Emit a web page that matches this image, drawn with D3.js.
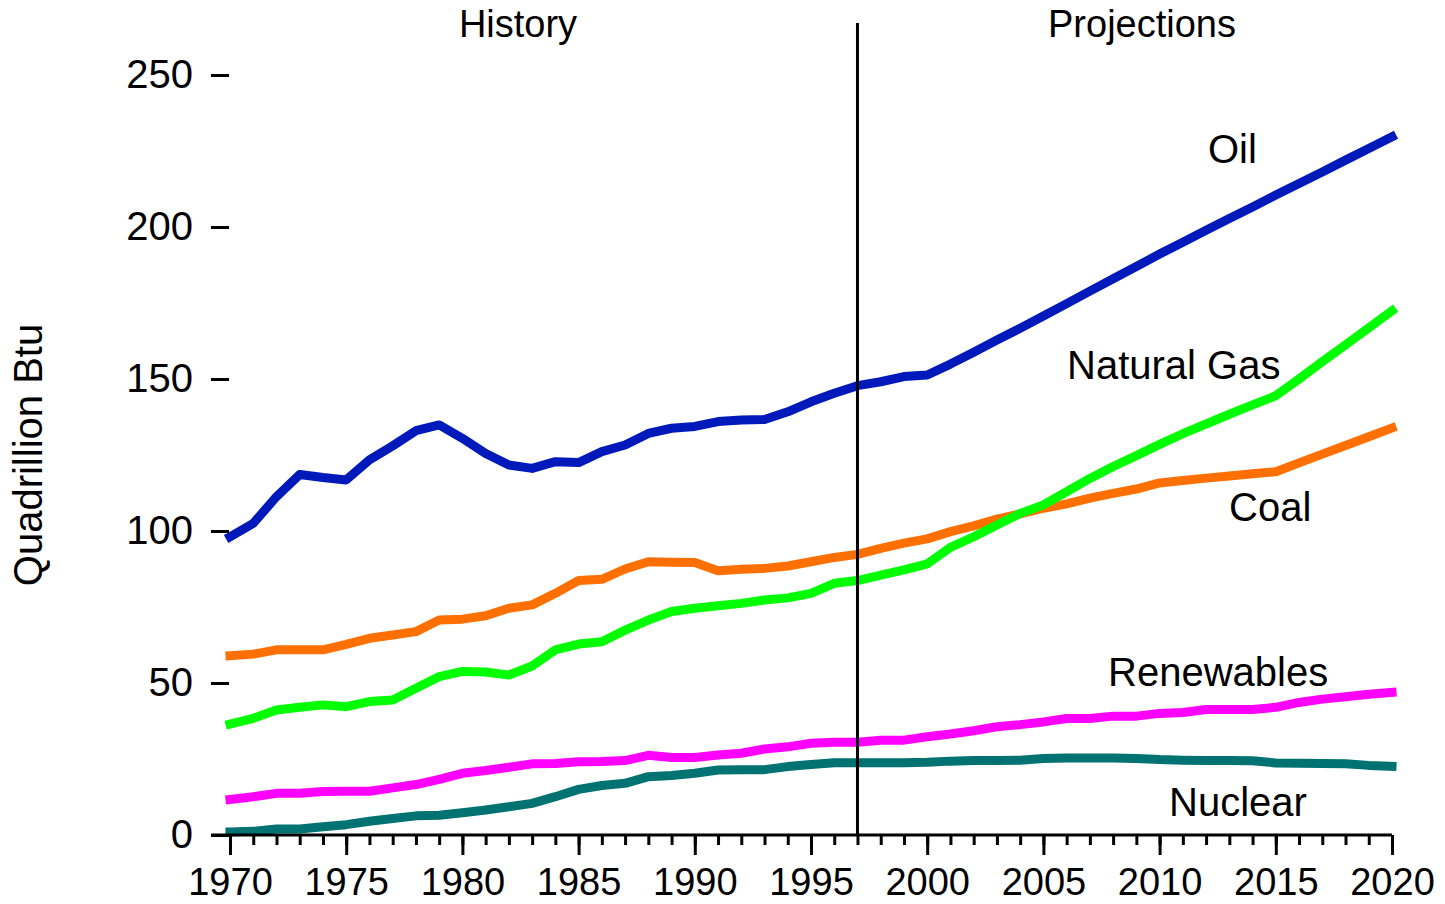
<!DOCTYPE html>
<html>
<head>
<meta charset="utf-8">
<script src="https://cdn.jsdelivr.net/npm/d3@7"></script>
<style>
  html, body { margin: 0; padding: 0; background: #fff; }
  svg { display: block; }
  text { font-family: "Liberation Sans", Arial, sans-serif; fill: #000; }
</style>
</head>
<body>
<svg id="chart" width="1445" height="904"></svg>
<script>
const years = d3.range(1970, 2021);
const oil = [98.1,102.5,111.3,118.6,117.6,116.8,123.4,128,133,134.9,130.5,125.5,121.7,120.6,122.8,122.5,126.1,128.3,132.1,133.8,134.4,136,136.5,136.7,139.2,142.5,145.3,147.8,149.1,150.8,151.3,154.9,158.8,162.8,166.7,170.7,174.8,178.9,183,187,191.1,195,198.9,202.8,206.6,210.5,214.3,218.1,222,225.8,229.7];
const gas = [36.5,38.4,41.1,42,42.8,42.2,43.9,44.4,48.3,52.1,53.8,53.6,52.6,55.6,60.9,62.8,63.6,67.4,70.7,73.5,74.6,75.4,76.2,77.3,78,79.5,82.8,83.7,85.5,87.2,89.2,94.6,98.1,102,105.8,108.6,112.9,117.3,121.2,124.8,128.5,132,135.2,138.4,141.5,144.5,150,155.7,161.2,166.8,172.4];
const coal = [59,59.5,60.9,60.9,60.9,62.7,64.7,65.8,66.9,70.7,71,72.1,74.6,75.7,79.5,83.7,84.1,87.5,89.9,89.7,89.6,86.9,87.4,87.7,88.5,89.9,91.3,92.3,94.3,96,97.4,99.8,101.7,103.9,105.6,107.5,108.9,110.8,112.4,113.8,115.8,116.6,117.4,118.1,118.8,119.5,122.4,125.3,128.1,131,133.9];
const renewables = [11.7,12.6,13.7,13.7,14.3,14.4,14.4,15.5,16.6,18.3,20.3,21.2,22.3,23.4,23.5,24.1,24.2,24.5,26.2,25.5,25.5,26.3,26.9,28.3,29,30.2,30.5,30.5,31.2,31.2,32.3,33.2,34.3,35.6,36.3,37.2,38.3,38.3,39.1,39.1,40,40.3,41.3,41.3,41.3,42,43.6,44.7,45.5,46.3,46.9];
const nuclear = [1,1.2,2,2,2.7,3.4,4.5,5.4,6.3,6.5,7.3,8.2,9.3,10.4,12.6,15,16.3,17,19.2,19.6,20.3,21.4,21.5,21.5,22.5,23.2,23.8,23.8,23.8,23.8,23.9,24.3,24.5,24.5,24.6,25.2,25.3,25.3,25.3,25.2,24.8,24.6,24.5,24.5,24.4,23.7,23.6,23.5,23.4,22.9,22.6];
const seriesNames = ["Nuclear", "Renewables", "Coal", "Natural Gas", "Oil"];
const seriesValues = [nuclear, renewables, coal, gas, oil];
const seriesColors = ["#007272", "#FF00FF", "#FF7000", "#00FF00", "#0019BB"];
const yTicks = [0, 50, 100, 150, 200, 250];
const majorYears = [1970, 1975, 1980, 1985, 1990, 1995, 2000, 2005, 2010, 2015, 2020];
const splitYear = 1997;
const periodLabels = ["History", "Projections"];
const yTitle = "Quadrillion Btu";

const svg = d3.select("#chart");
const x = d3.scaleLinear().domain([1970, 2020]).range([230, 1392]);
const y = d3.scaleLinear().domain([0, 250]).range([835, 75]);

// Lines
const line = d3.line().x((d, i) => x(years[i])).y(d => y(d));
seriesValues.forEach((vals, k) => {
  svg.append("path")
    .datum(vals)
    .attr("d", line)
    .attr("fill", "none")
    .attr("stroke", seriesColors[k])
    .attr("stroke-width", 9)
    .attr("stroke-linecap", "square")
    .attr("stroke-linejoin", "round");
});

// X axis: minor ticks
const gMinor = svg.append("g").attr("transform", `translate(0,${y(0)})`)
  .call(d3.axisBottom(x).tickValues(years).tickSize(10).tickFormat(""));
gMinor.select(".domain").remove();
gMinor.selectAll("line").attr("stroke", "#000").attr("stroke-width", 3);

// X axis: major ticks + labels
const gMajor = svg.append("g").attr("transform", `translate(0,${y(0)})`)
  .call(d3.axisBottom(x).tickValues(majorYears).tickSize(20).tickPadding(13).tickFormat(d3.format("d")));
gMajor.select(".domain").remove();
gMajor.selectAll("line").attr("stroke", "#000").attr("stroke-width", 3);
gMajor.selectAll("text").attr("font-size", 38).attr("font-family", "Liberation Sans, Arial, sans-serif").attr("fill", "#000");

// X axis baseline
svg.append("line")
  .attr("x1", x(1970) - 19).attr("x2", x(2020))
  .attr("y1", y(0)).attr("y2", y(0))
  .attr("stroke", "#000").attr("stroke-width", 3);

// Y axis
const gY = svg.append("g").attr("transform", `translate(${x(1970) - 1},0)`)
  .call(d3.axisLeft(y).tickValues(yTicks).tickSize(18).tickPadding(18));
gY.select(".domain").remove();
gY.selectAll("line").attr("stroke", "#000").attr("stroke-width", 3);
gY.selectAll("text").attr("font-size", 40).attr("font-family", "Liberation Sans, Arial, sans-serif").attr("fill", "#000");

// Divider between history and projections
svg.append("line")
  .attr("x1", x(splitYear)).attr("x2", x(splitYear))
  .attr("y1", 23).attr("y2", y(0))
  .attr("stroke", "#000").attr("stroke-width", 3);

// Period labels
svg.append("text").attr("x", 518).attr("y", 37).attr("text-anchor", "middle").attr("font-size", 38).text(periodLabels[0]);
svg.append("text").attr("x", 1142).attr("y", 37).attr("text-anchor", "middle").attr("font-size", 38).text(periodLabels[1]);

// Series labels
const labelPos = [[1169, 816], [1108, 686], [1229, 521], [1067, 379], [1208, 163]];
seriesNames.forEach((n, k) => {
  svg.append("text").attr("x", labelPos[k][0]).attr("y", labelPos[k][1]).attr("font-size", 40).text(n);
});

// Y title
svg.append("text")
  .attr("transform", `translate(42,455) rotate(-90)`)
  .attr("text-anchor", "middle")
  .attr("font-size", 40)
  .text(yTitle);
</script>
</body>
</html>
